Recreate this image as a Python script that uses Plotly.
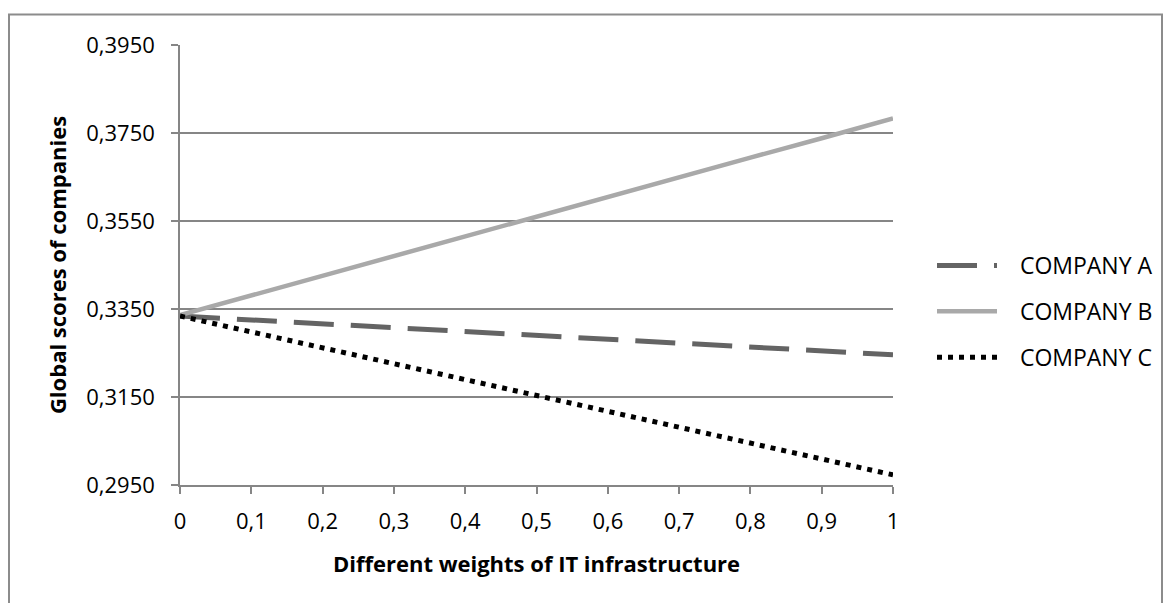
import plotly.graph_objects as go

# Weight given to IT infrastructure
weights = [0, 0.1, 0.2, 0.3, 0.4, 0.5, 0.6, 0.7, 0.8, 0.9, 1]

# Global scores of each company for every weight
company_a = [0.3334, 0.3325, 0.3316, 0.3308, 0.3299, 0.3290, 0.3281, 0.3272, 0.3264, 0.3255, 0.3246]
company_b = [0.3336, 0.3381, 0.3426, 0.3470, 0.3515, 0.3560, 0.3604, 0.3649, 0.3694, 0.3738, 0.3783]
company_c = [0.3334, 0.3298, 0.3262, 0.3226, 0.3190, 0.3154, 0.3117, 0.3081, 0.3045, 0.3009, 0.2973]

series_names = ["COMPANY A", "COMPANY B", "COMPANY C"]

W, H = 1170, 603
ML, MR, MT, MB = 180, 277, 45, 118
FONT = "Open Sans"
PAD = "\u00a0\u00a0\u00a0"

fig = go.Figure()
fig.add_trace(go.Scatter(
    x=weights, y=company_a, mode="lines", name=PAD + series_names[0], legendgroup="a",
    line=dict(color="#646464", width=5, dash="40px,17px"),
))
fig.add_trace(go.Scatter(
    x=weights, y=company_b, mode="lines", name=PAD + series_names[1], legendgroup="b",
    line=dict(color="#a9a9a9", width=4.5),
))
fig.add_trace(go.Scatter(
    x=weights, y=company_c, mode="lines", name=PAD + series_names[2], legendgroup="c",
    line=dict(color="#000000", width=5, dash="5px,6px"),
))

pw = W - ML - MR
ph = H - MT - MB


def px_x(p):
    return (p - ML) / pw


def px_y(p):
    return (H - MB - p) / ph


# Outer chart frame
fig.add_shape(
    type="rect", xref="paper", yref="paper",
    x0=px_x(9), x1=px_x(1162), y0=px_y(620), y1=px_y(14.5),
    line=dict(color="#8c8c8c", width=2), fillcolor="rgba(0,0,0,0)", layer="below",
)

fig.update_layout(
    width=W, height=H,
    margin=dict(l=ML, r=MR, t=MT, b=MB),
    paper_bgcolor="white", plot_bgcolor="white",
    separators=",.",
    font=dict(family=FONT, size=23, color="#000000"),
    showlegend=True,
    legend=dict(
        x=px_x(932), y=px_y(244), xanchor="left", yanchor="top",
        font=dict(family=FONT, size=23, color="#000000"),
        itemwidth=60, tracegroupgap=13, bgcolor="rgba(0,0,0,0)",
    ),
    xaxis=dict(
        range=[0, 1], tick0=0, dtick=0.1,
        showgrid=False, zeroline=False,
        showline=True, linecolor="#868686", linewidth=1.5,
        ticks="outside", ticklen=7, tickcolor="#868686", tickwidth=1.5,
        ticklabelstandoff=9,
        tickfont=dict(family=FONT, size=22, color="#000000"),
        title=dict(text="<b>Different weights of IT infrastructure</b>",
                   font=dict(family=FONT, size=22, color="#000000"), standoff=22),
    ),
    yaxis=dict(
        range=[0.2950, 0.3950], tick0=0.2950, dtick=0.02, tickformat=".4f",
        showgrid=True, gridcolor="#868686", gridwidth=1.5,
        zeroline=False,
        showline=True, linecolor="#868686", linewidth=1.5,
        ticks="outside", ticklen=7, tickcolor="#868686", tickwidth=1.5,
        ticklabelstandoff=12,
        tickfont=dict(family=FONT, size=22, color="#000000"),
        title=dict(text="<b>Global scores of companies</b>",
                   font=dict(family=FONT, size=22, color="#000000"), standoff=14),
    ),
)

fig.write_html("out.html")
